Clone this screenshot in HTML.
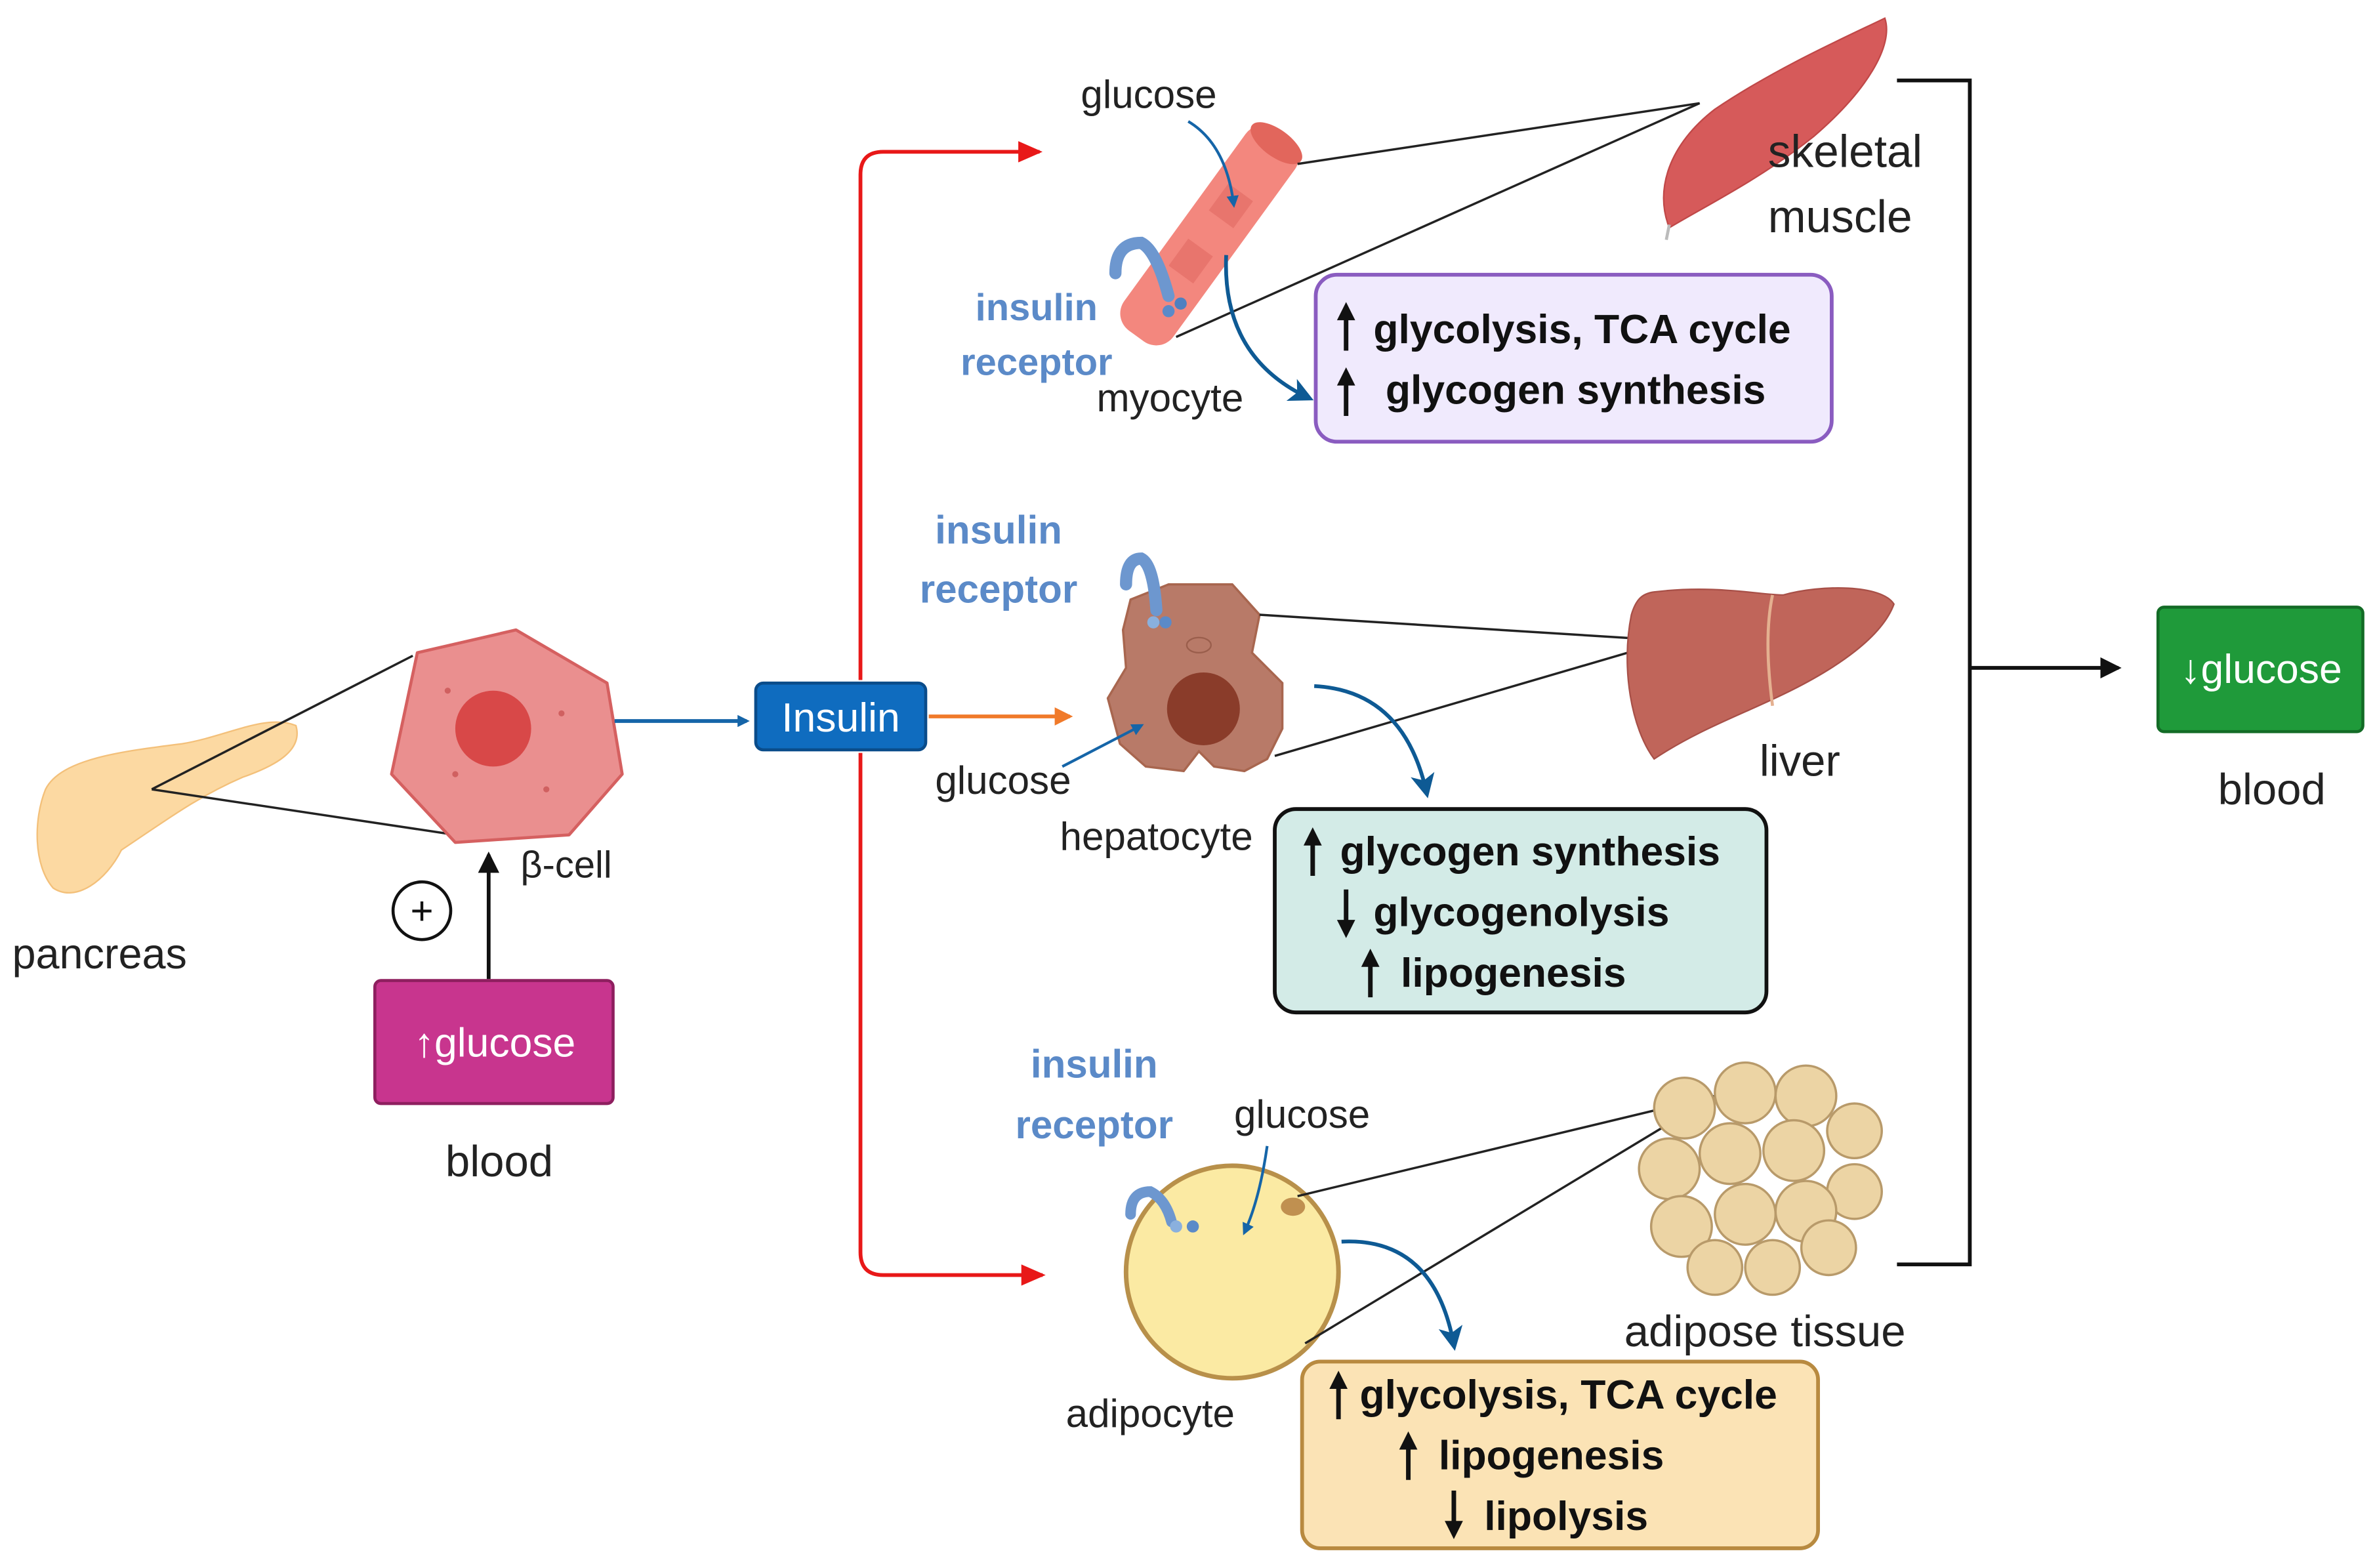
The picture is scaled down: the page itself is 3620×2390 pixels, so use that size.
<!DOCTYPE html>
<html><head><meta charset="utf-8"><style>html,body{margin:0;padding:0;background:#fff}svg{display:block}</style></head>
<body>
<svg width="3620" height="2390" viewBox="0 0 1565 1033" preserveAspectRatio="none" xmlns="http://www.w3.org/2000/svg" font-family="Liberation Sans, sans-serif">
<defs>
<marker id="ab" markerWidth="8" markerHeight="8" refX="6" refY="4" orient="auto" markerUnits="userSpaceOnUse"><path d="M0,0 L8,4 L0,8z" fill="#1565a8"/></marker>
<marker id="ak" markerWidth="14" markerHeight="14" refX="12" refY="7" orient="auto" markerUnits="userSpaceOnUse"><path d="M0,0 L14,7 L0,14z" fill="#111"/></marker>
<marker id="ar" markerWidth="16" markerHeight="14" refX="14" refY="7" orient="auto" markerUnits="userSpaceOnUse"><path d="M0,0 L16,7 L0,14z" fill="#e81818"/></marker>
<marker id="ao" markerWidth="12" markerHeight="12" refX="10" refY="6" orient="auto" markerUnits="userSpaceOnUse"><path d="M0,0 L12,6 L0,12z" fill="#f07a2a"/></marker>
<marker id="abk" markerWidth="14" markerHeight="14" refX="12" refY="7" orient="auto" markerUnits="userSpaceOnUse"><path d="M0,0 L14,7 L0,14z" fill="#111"/></marker>
<marker id="abd" markerWidth="16" markerHeight="16" refX="12" refY="8" orient="auto" markerUnits="userSpaceOnUse"><path d="M0,0 L16,8 L0,16 L4,8z" fill="#0e5a94"/></marker>
<g id="up"><path d="M0,-16 L-6,-4 L-1.5,-4 L-1.5,16 L1.5,16 L1.5,-4 L6,-4z" fill="#111"/></g>
<g id="dn"><path d="M0,16 L-6,4 L-1.5,4 L-1.5,-16 L1.5,-16 L1.5,4 L6,4z" fill="#111"/></g>
</defs>

<!-- pancreas -->
<path d="M30,520 C40,500 80,495 120,490 C150,485 175,470 195,478 C200,495 180,505 160,512 C130,525 110,540 80,560 C70,580 50,595 35,585 C22,570 22,540 30,520z" fill="#fcd9a2" stroke="#f3c07a" stroke-width="1"/>
<line x1="100" y1="520" x2="272" y2="432" stroke="#222" stroke-width="1.5"/>
<line x1="100" y1="520" x2="300" y2="550" stroke="#222" stroke-width="1.5"/>
<path d="M275,430 L340,415 L400,450 L410,510 L375,550 L300,555 L258,510z" fill="#ea8f8f" stroke="#d56060" stroke-width="2" stroke-linejoin="round"/>
<circle cx="325" cy="480" r="25" fill="#d84848"/>
<circle cx="295" cy="455" r="2" fill="#d06060"/><circle cx="370" cy="470" r="2" fill="#d06060"/><circle cx="300" cy="510" r="2" fill="#d06060"/><circle cx="360" cy="520" r="2" fill="#d06060"/>
<text x="343" y="578" font-size="25" fill="#222">β-cell</text>
<text x="8" y="638" font-size="28" fill="#222">pancreas</text>
<circle cx="278" cy="600" r="19" fill="#fff" stroke="#111" stroke-width="2"/>
<text x="278" y="609" font-size="26" text-anchor="middle" fill="#111">+</text>
<line x1="322" y1="645" x2="322" y2="563" stroke="#111" stroke-width="2.5" marker-end="url(#ak)"/>
<rect x="247" y="646" width="157" height="81" rx="4" fill="#c8358e" stroke="#8e1f5f" stroke-width="2"/>
<text x="326" y="696" font-size="27" fill="#fff" text-anchor="middle">↑glucose</text>
<text x="329" y="775" font-size="29" fill="#222" text-anchor="middle">blood</text>

<line x1="405" y1="475" x2="492" y2="475" stroke="#1565a8" stroke-width="2.5" marker-end="url(#ab)"/>
<rect x="498" y="450" width="112" height="44" rx="5" fill="#0f6cbf" stroke="#0a4c8a" stroke-width="2"/>
<text x="554" y="482" font-size="27" fill="#fff" text-anchor="middle">Insulin</text>
<line x1="612" y1="472" x2="705" y2="472" stroke="#f07a2a" stroke-width="2.5" marker-end="url(#ao)"/>
<path d="M567,448 L567,115 Q567,100 582,100 L685,100" fill="none" stroke="#e81818" stroke-width="2.5" marker-end="url(#ar)"/>
<path d="M567,496 L567,825 Q567,840 582,840 L687,840" fill="none" stroke="#e81818" stroke-width="2.5" marker-end="url(#ar)"/>

<!-- myocyte -->
<g transform="translate(797,155) rotate(36)">
<rect x="-20" y="-82" width="40" height="164" rx="14" fill="#f3877e"/>
<ellipse cx="0" cy="-75" rx="20" ry="9" fill="#e2665c"/>
<rect x="-10" y="-35" width="20" height="22" fill="#e8756d"/>
<rect x="-10" y="10" width="20" height="22" fill="#e8756d"/>
</g>
<line x1="855" y1="108" x2="1120" y2="68" stroke="#222" stroke-width="1.5"/>
<line x1="775" y1="222" x2="1120" y2="68" stroke="#222" stroke-width="1.5"/>
<path d="M1242,12 C1248,30 1230,60 1195,90 C1160,118 1125,135 1100,150 C1090,125 1100,95 1130,72 C1170,45 1215,25 1242,12z" fill="#d65a5a" stroke="#c04848"/>
<path d="M1100,148 L1098,158" stroke="#bbb" stroke-width="2"/>
<text x="1165" y="110" font-size="30" fill="#222">skeletal</text>
<text x="1165" y="153" font-size="30" fill="#222">muscle</text>
<text x="757" y="71" font-size="26" fill="#222" text-anchor="middle">glucose</text>
<path d="M783,80 Q808,95 813,135" fill="none" stroke="#1565a8" stroke-width="1.8" marker-end="url(#ab)"/>
<path d="M808,168 Q805,235 862,262" fill="none" stroke="#0e5a94" stroke-width="2.5" marker-end="url(#abd)"/>
<path d="M735,180 Q735,160 752,160 Q762,165 770,195" fill="none" stroke="#6d97cf" stroke-width="8" stroke-linecap="round"/>
<circle cx="770" cy="205" r="4" fill="#5b8ac8"/><circle cx="778" cy="200" r="4" fill="#4f80c0"/>
<text x="683" y="211" font-size="25" font-weight="bold" fill="#5b8ac8" text-anchor="middle">insulin</text>
<text x="683" y="247" font-size="25" font-weight="bold" fill="#5b8ac8" text-anchor="middle">receptor</text>
<text x="771" y="271" font-size="26" fill="#222" text-anchor="middle">myocyte</text>
<rect x="867" y="181" width="340" height="110" rx="14" fill="#f0eafd" stroke="#8a5cc0" stroke-width="2.5"/>
<use href="#up" x="887" y="215"/><use href="#up" x="887" y="258"/>
<text x="905" y="226" font-size="27" font-weight="bold" fill="#111">glycolysis, TCA cycle</text>
<text x="913" y="266" font-size="27" font-weight="bold" fill="#111">glycogen synthesis</text>

<!-- hepatocyte -->
<path d="M745,395 L770,385 L812,385 L830,405 L825,430 L845,450 L845,480 L835,500 L820,508 L800,505 L790,495 L780,508 L755,505 L738,490 L730,460 L742,440 L740,415z" fill="#b87a68" stroke="#a8664f" stroke-width="1.5"/>
<circle cx="793" cy="467" r="24" fill="#8a3c2a"/>
<ellipse cx="790" cy="425" rx="8" ry="5" fill="none" stroke="#9a5e4c"/>
<line x1="830" y1="405" x2="1100" y2="422" stroke="#222" stroke-width="1.5"/>
<line x1="840" y1="498" x2="1100" y2="422" stroke="#222" stroke-width="1.5"/>
<path d="M1090,390 C1130,385 1160,392 1175,392 C1200,385 1240,385 1248,398 C1240,420 1210,440 1180,455 C1150,470 1120,480 1090,500 C1075,480 1068,440 1075,405 C1078,395 1082,391 1090,390z" fill="#c0655a" stroke="#a85048"/>
<path d="M1168,392 Q1162,420 1168,465" stroke="#e4b090" stroke-width="2" fill="none"/>
<text x="1186" y="511" font-size="29" fill="#222" text-anchor="middle">liver</text>
<path d="M742,385 Q742,368 752,368 Q760,372 762,402" fill="none" stroke="#6d97cf" stroke-width="8" stroke-linecap="round"/>
<circle cx="760" cy="410" r="4" fill="#8ab0de"/><circle cx="768" cy="410" r="4" fill="#5b8ac8"/>
<text x="658" y="358" font-size="26" font-weight="bold" fill="#5b8ac8" text-anchor="middle">insulin</text>
<text x="658" y="397" font-size="26" font-weight="bold" fill="#5b8ac8" text-anchor="middle">receptor</text>
<path d="M700,505 L752,478" stroke="#1565a8" stroke-width="1.8" marker-end="url(#ab)"/>
<text x="661" y="523" font-size="26" fill="#222" text-anchor="middle">glucose</text>
<text x="762" y="560" font-size="26" fill="#222" text-anchor="middle">hepatocyte</text>
<path d="M866,452 Q925,455 940,522" fill="none" stroke="#0e5a94" stroke-width="2.5" marker-end="url(#abd)"/>
<rect x="840" y="533" width="324" height="134" rx="14" fill="#d3ebe7" stroke="#111" stroke-width="2.5"/>
<use href="#up" x="865" y="561"/><use href="#dn" x="887" y="602"/><use href="#up" x="903" y="641"/>
<text x="883" y="570" font-size="27" font-weight="bold" fill="#111">glycogen synthesis</text>
<text x="905" y="610" font-size="27" font-weight="bold" fill="#111">glycogenolysis</text>
<text x="923" y="650" font-size="27" font-weight="bold" fill="#111">lipogenesis</text>

<!-- adipocyte -->
<circle cx="812" cy="838" r="70" fill="#fbeaa3" stroke="#b8904a" stroke-width="3"/>
<ellipse cx="852" cy="795" rx="8" ry="6" fill="#c09050"/>
<line x1="855" y1="788" x2="1130" y2="722" stroke="#222" stroke-width="1.5"/>
<line x1="860" y1="885" x2="1130" y2="722" stroke="#222" stroke-width="1.5"/>
<g fill="#ecd4a4" stroke="#b89a6a" stroke-width="1.5">
<circle cx="1110" cy="730" r="20"/><circle cx="1150" cy="720" r="20"/><circle cx="1190" cy="722" r="20"/><circle cx="1222" cy="745" r="18"/>
<circle cx="1100" cy="770" r="20"/><circle cx="1140" cy="760" r="20"/><circle cx="1182" cy="758" r="20"/><circle cx="1222" cy="785" r="18"/>
<circle cx="1108" cy="808" r="20"/><circle cx="1150" cy="800" r="20"/><circle cx="1190" cy="798" r="20"/>
<circle cx="1130" cy="835" r="18"/><circle cx="1168" cy="835" r="18"/><circle cx="1205" cy="822" r="18"/>
</g>
<text x="1163" y="887" font-size="29" fill="#222" text-anchor="middle">adipose tissue</text>
<path d="M745,800 Q745,785 758,785 Q768,790 772,805" fill="none" stroke="#6d97cf" stroke-width="7" stroke-linecap="round"/>
<circle cx="775" cy="808" r="4" fill="#8ab0de"/><circle cx="786" cy="808" r="4" fill="#5b8ac8"/>
<text x="721" y="710" font-size="26" font-weight="bold" fill="#5b8ac8" text-anchor="middle">insulin</text>
<text x="721" y="750" font-size="26" font-weight="bold" fill="#5b8ac8" text-anchor="middle">receptor</text>
<text x="858" y="743" font-size="26" fill="#222" text-anchor="middle">glucose</text>
<path d="M835,755 Q830,790 820,812" fill="none" stroke="#1565a8" stroke-width="1.8" marker-end="url(#ab)"/>
<text x="758" y="940" font-size="26" fill="#222" text-anchor="middle">adipocyte</text>
<path d="M884,818 Q945,815 958,886" fill="none" stroke="#0e5a94" stroke-width="2.5" marker-end="url(#abd)"/>
<rect x="858" y="897" width="340" height="123" rx="12" fill="#fbe3b5" stroke="#b88a40" stroke-width="2.5"/>
<use href="#up" x="882" y="919"/><use href="#up" x="928" y="959"/><use href="#dn" x="958" y="998"/>
<text x="896" y="928" font-size="27" font-weight="bold" fill="#111">glycolysis, TCA cycle</text>
<text x="948" y="968" font-size="27" font-weight="bold" fill="#111">lipogenesis</text>
<text x="978" y="1008" font-size="27" font-weight="bold" fill="#111">lipolysis</text>

<path d="M1250,53 L1298,53 L1298,833 L1250,833" fill="none" stroke="#111" stroke-width="2.5"/>
<line x1="1298" y1="440" x2="1396" y2="440" stroke="#111" stroke-width="2.5" marker-end="url(#abk)"/>
<rect x="1422" y="400" width="135" height="82" rx="4" fill="#1f9a3a" stroke="#136b26" stroke-width="2"/>
<text x="1490" y="450" font-size="27" fill="#fff" text-anchor="middle">↓glucose</text>
<text x="1497" y="530" font-size="29" fill="#222" text-anchor="middle">blood</text>
</svg>
</body></html>
